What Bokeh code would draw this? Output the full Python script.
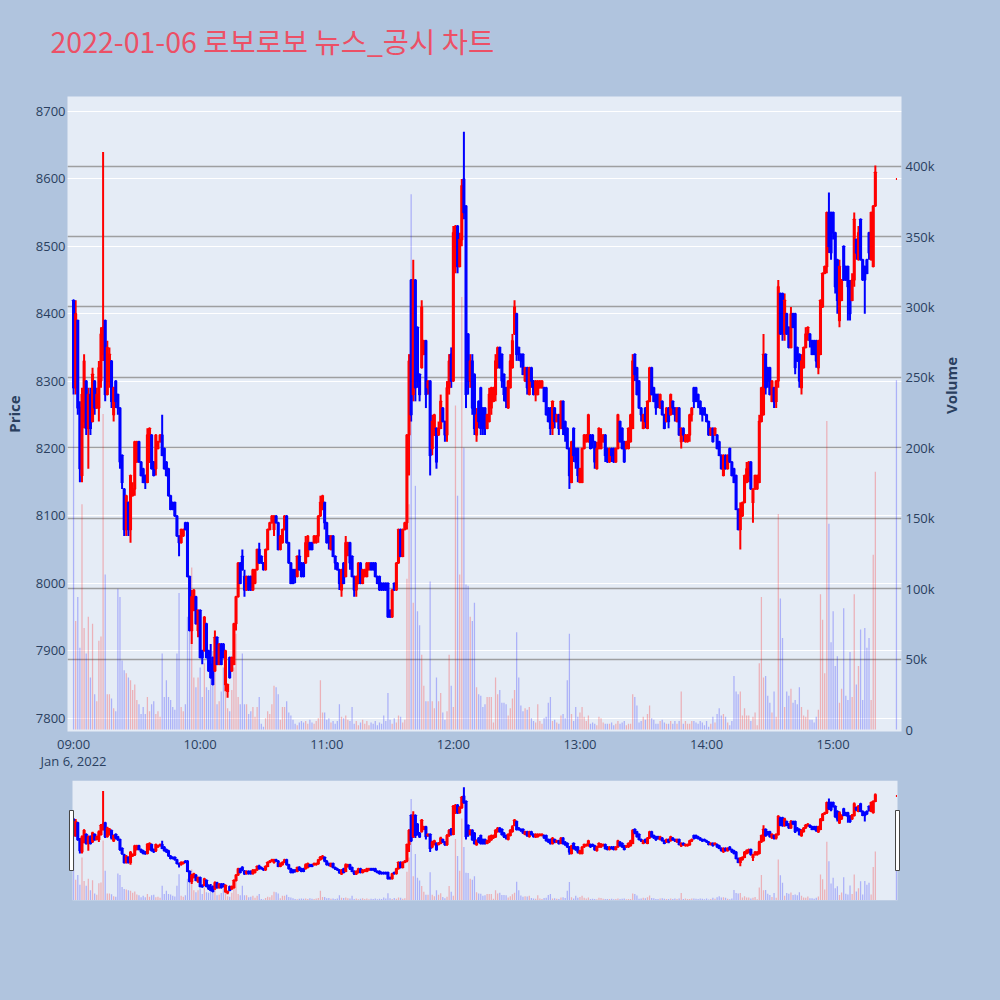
import math
import pandas as pd
from bokeh.plotting import figure
from bokeh.layouts import column
from bokeh.models import (ColumnDataSource, Range1d, LinearAxis, FixedTicker,
                          NumeralTickFormatter, DatetimeTickFormatter, Grid)
from bokeh.embed import file_html
from bokeh.resources import INLINE
try:
    from bokeh.models import GlobalInlineStyleSheet
except ImportError:
    GlobalInlineStyleSheet = None

# ---------------- data ----------------
TITLE = "2022-01-06 로보로보 뉴스_공시 차트"
SESSION_START = "2022-01-06 09:00"
CLOSING_TIME = "2022-01-06 15:30"

hour_labels = ["09:00", "10:00", "11:00", "12:00", "13:00", "14:00", "15:00"]
price_ticks = [7800, 7900, 8000, 8100, 8200, 8300, 8400, 8500, 8600, 8700]
volume_ticks = [0, 50000, 100000, 150000, 200000, 250000, 300000, 350000, 400000]

opens = [
    8420, 8290, 8390, 8260, 8160, 8240, 8300, 8230, 8280, 8240,
    8300, 8260, 8260, 8300, 8340, 8390, 8280, 8300, 8330, 8250,
    8300, 8280, 8260, 8190, 8140, 8080, 8120, 8080, 8130, 8140,
    8180, 8210, 8180, 8170, 8160, 8150, 8180, 8220, 8180, 8170,
    8200, 8210, 8220, 8200, 8180, 8170, 8130, 8120, 8120, 8100,
    8070, 8060, 8070, 8090, 8090, 8010, 7930, 7960, 7980, 7930,
    7960, 7900, 7900, 7940, 7900, 7880, 7890, 7870, 7920, 7880,
    7910, 7910, 7850, 7840, 7890, 7870, 7880, 7940, 7980, 8030,
    8040, 8010, 7990, 8010, 8010, 7990, 8000, 8020, 8050, 8040,
    8030, 8020, 8050, 8080, 8090, 8080, 8100, 8090, 8050, 8060,
    8080, 8100, 8060, 8030, 8020, 8020, 8010, 8040, 8030, 8030,
    8030, 8040, 8060, 8060, 8060, 8060, 8070, 8100, 8110, 8120,
    8090, 8070, 8050, 8070, 8040, 8030, 8020, 7990, 8030, 8010,
    8050, 8060, 8040, 8010, 7990, 8000, 8030, 8000, 8010, 8010,
    8020, 8030, 8030, 8030, 8010, 8010, 8000, 8000, 8000, 8000,
    7960, 7950, 8000, 7990, 8030, 8080, 8040, 8080, 8090, 8220,
    8450, 8280, 8450, 8380, 8310, 8320, 8340, 8360, 8290, 8300,
    8200, 8220, 8230, 8220, 8230, 8260, 8240, 8220, 8290, 8340,
    8300, 8470, 8530, 8470, 8510, 8600, 8560, 8370, 8300, 8330,
    8310, 8220, 8270, 8290, 8260, 8260, 8230, 8240, 8260, 8270,
    8280, 8320, 8350, 8340, 8310, 8290, 8260, 8290, 8320, 8370,
    8400, 8350, 8340, 8340, 8300, 8320, 8280, 8320, 8300, 8280,
    8280, 8290, 8290, 8290, 8290, 8260, 8260, 8230, 8260, 8240,
    8250, 8230, 8270, 8240, 8230, 8200, 8150, 8230, 8200, 8200,
    8150, 8150, 8200, 8210, 8210, 8220, 8220, 8210, 8170, 8200,
    8200, 8210, 8220, 8200, 8180, 8200, 8200, 8180, 8200, 8240,
    8230, 8210, 8200, 8200, 8210, 8230, 8340, 8320, 8300, 8260,
    8230, 8260, 8230, 8270, 8320, 8290, 8280, 8280, 8260, 8270,
    8250, 8240, 8260, 8250, 8270, 8260, 8240, 8260, 8210, 8230,
    8210, 8210, 8220, 8250, 8290, 8290, 8280, 8270, 8260, 8260,
    8250, 8240, 8220, 8230, 8220, 8220, 8210, 8190, 8160, 8190,
    8170, 8200, 8180, 8170, 8160, 8110, 8080, 8100, 8120, 8150,
    8160, 8180, 8120, 8140, 8140, 8150, 8240, 8250, 8340, 8320,
    8320, 8270, 8290, 8270, 8300, 8430, 8430, 8370, 8400, 8380,
    8350, 8400, 8400, 8350, 8340, 8290, 8320, 8350, 8370, 8370,
    8360, 8360, 8360, 8320, 8340, 8410, 8460, 8470, 8550, 8550,
    8550, 8520, 8480, 8390, 8420, 8500, 8470, 8470, 8440, 8420,
    8450, 8510, 8480, 8540, 8480, 8470, 8480, 8520, 8480, 8470,
    8560, 8600,
]
highs = [
    8420, 8420, 8390, 8270, 8290, 8340, 8300, 8290, 8290, 8320,
    8300, 8290, 8330, 8380, 8640, 8390, 8360, 8350, 8330, 8290,
    8300, 8280, 8260, 8190, 8140, 8130, 8120, 8160, 8150, 8210,
    8210, 8210, 8180, 8170, 8160, 8230, 8230, 8220, 8180, 8220,
    8210, 8220, 8250, 8200, 8180, 8170, 8130, 8120, 8120, 8100,
    8070, 8080, 8080, 8090, 8090, 8010, 7990, 7990, 7980, 7960,
    7960, 7900, 7950, 7940, 7900, 7910, 7890, 7930, 7920, 7910,
    7910, 7910, 7900, 7850, 7890, 7890, 7940, 7980, 8030, 8030,
    8050, 8020, 8010, 8010, 8010, 8020, 8020, 8050, 8060, 8040,
    8030, 8050, 8080, 8090, 8100, 8100, 8100, 8090, 8070, 8080,
    8100, 8100, 8060, 8030, 8020, 8020, 8040, 8050, 8030, 8030,
    8070, 8070, 8060, 8060, 8070, 8070, 8100, 8130, 8130, 8120,
    8090, 8070, 8070, 8070, 8040, 8030, 8020, 8020, 8030, 8070,
    8060, 8060, 8040, 8010, 8010, 8030, 8030, 8020, 8020, 8030,
    8030, 8030, 8030, 8030, 8010, 8010, 8000, 8000, 8000, 8000,
    7960, 7990, 8000, 8030, 8080, 8080, 8080, 8090, 8220, 8340,
    8450, 8480, 8450, 8380, 8310, 8420, 8360, 8360, 8300, 8300,
    8250, 8250, 8230, 8240, 8280, 8260, 8240, 8300, 8340, 8350,
    8530, 8530, 8530, 8520, 8600, 8670, 8560, 8370, 8340, 8340,
    8310, 8260, 8270, 8290, 8260, 8260, 8250, 8290, 8290, 8290,
    8340, 8350, 8350, 8340, 8310, 8290, 8300, 8340, 8370, 8420,
    8400, 8350, 8340, 8340, 8320, 8320, 8320, 8320, 8300, 8300,
    8300, 8300, 8300, 8290, 8290, 8260, 8260, 8270, 8260, 8250,
    8250, 8270, 8270, 8240, 8230, 8200, 8210, 8230, 8200, 8200,
    8170, 8200, 8220, 8220, 8250, 8220, 8220, 8210, 8210, 8230,
    8230, 8220, 8220, 8200, 8200, 8200, 8200, 8200, 8250, 8240,
    8230, 8210, 8210, 8230, 8250, 8340, 8340, 8320, 8300, 8260,
    8250, 8260, 8270, 8320, 8320, 8290, 8280, 8280, 8280, 8270,
    8250, 8260, 8260, 8280, 8270, 8260, 8260, 8260, 8230, 8230,
    8220, 8220, 8250, 8260, 8290, 8290, 8280, 8270, 8260, 8260,
    8250, 8240, 8230, 8230, 8230, 8220, 8210, 8190, 8190, 8190,
    8190, 8200, 8180, 8170, 8160, 8110, 8120, 8120, 8160, 8180,
    8180, 8180, 8140, 8160, 8160, 8250, 8290, 8370, 8340, 8320,
    8320, 8300, 8290, 8300, 8450, 8430, 8430, 8430, 8400, 8380,
    8410, 8400, 8400, 8350, 8340, 8340, 8350, 8380, 8380, 8370,
    8360, 8360, 8360, 8360, 8420, 8460, 8470, 8550, 8580, 8550,
    8550, 8520, 8480, 8480, 8450, 8500, 8470, 8470, 8450, 8460,
    8550, 8510, 8530, 8540, 8480, 8470, 8480, 8520, 8550, 8560,
    8620, 8600,
]
lows = [
    8280, 8280, 8250, 8150, 8150, 8230, 8220, 8170, 8220, 8240,
    8250, 8260, 8240, 8290, 8330, 8270, 8280, 8290, 8260, 8240,
    8260, 8250, 8170, 8140, 8070, 8070, 8070, 8060, 8130, 8130,
    8180, 8180, 8160, 8150, 8140, 8150, 8180, 8170, 8160, 8160,
    8200, 8210, 8190, 8170, 8160, 8130, 8110, 8110, 8100, 8070,
    8040, 8060, 8070, 8080, 8010, 7930, 7910, 7960, 7940, 7920,
    7890, 7880, 7900, 7890, 7870, 7860, 7850, 7870, 7880, 7880,
    7880, 7890, 7840, 7830, 7860, 7870, 7880, 7930, 7980, 8000,
    8020, 7980, 7990, 7990, 7990, 7990, 8000, 8020, 8030, 8030,
    8020, 8020, 8050, 8080, 8090, 8070, 8090, 8050, 8050, 8060,
    8080, 8060, 8030, 8000, 8000, 8000, 8010, 8020, 8010, 8010,
    8030, 8040, 8050, 8050, 8060, 8060, 8060, 8100, 8110, 8080,
    8060, 8050, 8050, 8040, 8020, 8020, 7990, 7980, 8000, 8010,
    8040, 8020, 8010, 7980, 7980, 8000, 8000, 8000, 8010, 8010,
    8020, 8020, 8020, 8010, 8000, 7990, 7990, 7990, 7990, 7950,
    7950, 7950, 7990, 7990, 8030, 8040, 8040, 8080, 8080, 8160,
    8240, 8270, 8270, 8290, 8270, 8320, 8340, 8260, 8280, 8160,
    8190, 8220, 8170, 8220, 8230, 8240, 8210, 8210, 8280, 8290,
    8300, 8460, 8460, 8470, 8500, 8540, 8260, 8280, 8290, 8250,
    8220, 8210, 8230, 8220, 8220, 8220, 8230, 8240, 8250, 8270,
    8270, 8320, 8320, 8290, 8270, 8260, 8260, 8290, 8320, 8370,
    8330, 8330, 8320, 8310, 8300, 8280, 8280, 8290, 8280, 8270,
    8280, 8290, 8290, 8270, 8250, 8240, 8220, 8220, 8230, 8240,
    8220, 8230, 8220, 8210, 8200, 8140, 8150, 8180, 8170, 8150,
    8150, 8150, 8200, 8210, 8210, 8200, 8200, 8170, 8170, 8200,
    8200, 8210, 8180, 8180, 8180, 8180, 8180, 8180, 8200, 8210,
    8200, 8180, 8200, 8200, 8210, 8230, 8300, 8280, 8260, 8240,
    8230, 8230, 8230, 8270, 8280, 8270, 8250, 8260, 8260, 8250,
    8230, 8240, 8230, 8250, 8250, 8240, 8240, 8220, 8200, 8210,
    8210, 8210, 8210, 8240, 8260, 8270, 8260, 8250, 8240, 8250,
    8240, 8220, 8220, 8210, 8220, 8200, 8190, 8170, 8160, 8170,
    8170, 8180, 8160, 8150, 8110, 8080, 8050, 8100, 8120, 8150,
    8150, 8140, 8090, 8140, 8140, 8150, 8240, 8250, 8280, 8290,
    8280, 8270, 8260, 8260, 8290, 8370, 8360, 8360, 8370, 8350,
    8350, 8380, 8310, 8330, 8290, 8280, 8320, 8350, 8360, 8350,
    8340, 8340, 8320, 8310, 8340, 8410, 8460, 8460, 8490, 8480,
    8510, 8430, 8400, 8380, 8420, 8450, 8450, 8390, 8390, 8420,
    8440, 8480, 8480, 8480, 8450, 8400, 8460, 8480, 8480, 8470,
    8560, 8600,
]
closes = [
    8290, 8400, 8260, 8170, 8280, 8330, 8230, 8280, 8230, 8310,
    8260, 8280, 8320, 8370, 8380, 8280, 8350, 8340, 8270, 8290,
    8270, 8260, 8180, 8150, 8080, 8130, 8080, 8160, 8140, 8210,
    8210, 8180, 8160, 8150, 8150, 8220, 8230, 8170, 8160, 8220,
    8210, 8220, 8190, 8170, 8160, 8130, 8110, 8110, 8100, 8070,
    8060, 8080, 8080, 8080, 8010, 7930, 7980, 7990, 7940, 7960,
    7890, 7890, 7950, 7890, 7870, 7860, 7850, 7920, 7880, 7910,
    7880, 7890, 7900, 7850, 7860, 7890, 7940, 7980, 8030, 8000,
    8020, 7990, 8010, 7990, 7990, 8020, 8020, 8050, 8030, 8030,
    8020, 8050, 8080, 8090, 8100, 8100, 8090, 8050, 8070, 8080,
    8100, 8060, 8030, 8000, 8000, 8010, 8040, 8020, 8010, 8010,
    8060, 8070, 8050, 8050, 8070, 8070, 8100, 8120, 8130, 8090,
    8060, 8060, 8070, 8040, 8030, 8020, 8000, 8020, 8000, 8060,
    8060, 8030, 8010, 7990, 8010, 8030, 8000, 8020, 8020, 8030,
    8030, 8020, 8020, 8010, 8000, 7990, 7990, 7990, 7990, 7950,
    7950, 7990, 7990, 8030, 8080, 8040, 8080, 8090, 8220, 8330,
    8250, 8450, 8290, 8300, 8280, 8410, 8360, 8280, 8300, 8190,
    8240, 8250, 8180, 8230, 8270, 8240, 8220, 8290, 8330, 8300,
    8520, 8530, 8470, 8510, 8590, 8550, 8280, 8300, 8330, 8260,
    8230, 8250, 8240, 8230, 8230, 8230, 8250, 8280, 8290, 8290,
    8330, 8350, 8320, 8300, 8280, 8270, 8300, 8330, 8360, 8410,
    8340, 8340, 8330, 8310, 8320, 8290, 8320, 8300, 8280, 8300,
    8300, 8300, 8300, 8270, 8250, 8240, 8230, 8270, 8240, 8250,
    8230, 8270, 8230, 8220, 8200, 8160, 8210, 8190, 8180, 8160,
    8170, 8200, 8220, 8220, 8250, 8200, 8210, 8180, 8200, 8230,
    8220, 8220, 8190, 8180, 8200, 8190, 8180, 8200, 8250, 8210,
    8200, 8180, 8210, 8230, 8250, 8330, 8310, 8280, 8260, 8250,
    8250, 8240, 8270, 8320, 8280, 8270, 8260, 8270, 8280, 8250,
    8230, 8260, 8240, 8280, 8260, 8250, 8260, 8220, 8230, 8220,
    8220, 8220, 8250, 8260, 8270, 8270, 8270, 8260, 8250, 8250,
    8240, 8220, 8230, 8210, 8230, 8200, 8190, 8170, 8190, 8170,
    8190, 8180, 8160, 8150, 8110, 8080, 8110, 8120, 8160, 8170,
    8180, 8140, 8140, 8160, 8160, 8240, 8290, 8340, 8290, 8300,
    8280, 8300, 8270, 8300, 8440, 8370, 8370, 8420, 8370, 8350,
    8400, 8380, 8320, 8330, 8300, 8330, 8350, 8370, 8380, 8360,
    8340, 8340, 8330, 8360, 8420, 8460, 8470, 8550, 8500, 8490,
    8520, 8440, 8420, 8470, 8450, 8450, 8450, 8440, 8400, 8450,
    8540, 8490, 8520, 8480, 8450, 8450, 8460, 8490, 8550, 8560,
    8610, 8600,
]
# traded volume per candle, in thousands of shares
volume_k = [
    238, 77, 94, 58, 160, 72, 54, 80, 37, 75,
    25, 20, 63, 66, 224, 110, 25, 25, 22, 15,
    13, 100, 94, 49, 42, 40, 37, 35, 28, 32,
    21, 18, 11, 16, 11, 23, 13, 18, 20, 11,
    13, 9, 54, 23, 35, 23, 21, 16, 14, 54,
    97, 16, 13, 18, 80, 82, 115, 37, 30, 37,
    44, 23, 47, 30, 28, 40, 56, 44, 18, 20,
    27, 44, 40, 15, 13, 28, 44, 68, 23, 18,
    54, 18, 18, 11, 13, 16, 9, 16, 23, 4,
    2, 8, 13, 11, 18, 31, 30, 25, 7, 16,
    16, 20, 12, 10, 7, 4, 3, 5, 6, 5,
    6, 4, 7, 5, 4, 6, 8, 35, 12, 12,
    7, 8, 5, 6, 4, 6, 18, 9, 8, 10,
    7, 6, 16, 4, 6, 3, 5, 7, 4, 6,
    3, 5, 4, 6, 3, 5, 4, 10, 6, 26,
    7, 4, 8, 5, 10, 9, 5, 7, 107, 160,
    380, 90, 173, 84, 74, 53, 31, 20, 20, 105,
    20, 15, 37, 20, 26, 12, 7, 13, 53, 31,
    16, 230, 166, 110, 307, 200, 103, 102, 80, 77,
    90, 30, 25, 24, 16, 18, 23, 23, 23, 5,
    37, 25, 28, 19, 19, 18, 10, 15, 22, 28,
    69, 37, 17, 13, 15, 14, 16, 8, 6, 5,
    18, 6, 4, 8, 9, 19, 23, 6, 7, 5,
    4, 10, 11, 8, 35, 68, 11, 6, 16, 9,
    12, 16, 9, 6, 10, 4, 5, 4, 3, 9,
    8, 5, 4, 4, 4, 5, 3, 4, 6, 4,
    5, 6, 3, 4, 4, 25, 23, 17, 5, 6,
    9, 7, 11, 17, 8, 7, 4, 4, 6, 7,
    5, 4, 4, 6, 4, 6, 4, 6, 27, 4,
    6, 4, 4, 6, 6, 5, 4, 6, 5, 3,
    6, 2, 4, 9, 5, 11, 15, 10, 11, 9,
    5, 3, 6, 38, 27, 25, 27, 10, 15, 10,
    10, 6, 9, 12, 3, 47, 94, 37, 38, 24,
    19, 12, 27, 9, 153, 93, 65, 16, 27, 24,
    29, 19, 21, 18, 30, 16, 10, 9, 14, 7,
    7, 5, 9, 14, 96, 78, 40, 219, 146, 62,
    84, 45, 52, 19, 29, 86, 24, 21, 55, 23,
    96, 32, 45, 71, 21, 72, 58, 65, 21, 124,
    183, 248,
]

n = len(opens)
assert all(len(a) == n for a in (highs, lows, closes, volume_k)), [len(a) for a in (opens, highs, lows, closes, volume_k)]

# one-minute candles for the continuous session + the 15:30 closing auction
times = pd.date_range(SESSION_START, periods=n - 1, freq="min").append(pd.DatetimeIndex([CLOSING_TIME]))

# ---------------- styling ----------------
RED, BLUE = "#FF0000", "#0000FF"
PAGE_BG, PLOT_BG = "#B0C4DE", "#E5ECF6"
TXT = "#2a3f5f"
FONT = "Open Sans"

candle_color = [RED if c >= o else BLUE for o, c in zip(opens, closes)]
vol_color = []
for i, (o, c) in enumerate(zip(opens, closes)):
    if c != o:
        up = c > o
    else:
        up = i > 0 and c >= closes[i - 1]
    vol_color.append(RED if up else BLUE)

src = ColumnDataSource(dict(
    time=times.values,
    open=opens, high=highs, low=lows, close=closes,
    top=[max(o, c) for o, c in zip(opens, closes)],
    bottom=[min(o, c) for o, c in zip(opens, closes)],
    volume=[v * 1000 for v in volume_k],
    color=candle_color, vcolor=vol_color,
))


def ms(ts):
    return pd.Timestamp(ts).value / 1e6


MIN_MS = 60_000
PX_PER_MIN = 2.110
PX_MS = MIN_MS / PX_PER_MIN
HALF = 0.5 * MIN_MS
first_ms, last_ms = ms(times[0]), ms(times[-1])
X_START = first_ms - HALF - 5 * PX_MS
X_END = last_ms + HALF + 4 * PX_MS

PRICE_RANGE = (7780.1, 8722.3)
VOL_RANGE = (-1420, 449430)
BODY_W = 0.5 * MIN_MS
VOL_W = 0.6 * MIN_MS

BORDER_L, BORDER_R = 67, 99


def draw_series(fig):
    fig.vbar(x="time", width=VOL_W, top="volume", bottom=0, y_range_name="vol",
             fill_color="vcolor", fill_alpha=0.25, line_color=None, source=src)
    fig.segment(x0="time", y0="low", x1="time", y1="high", line_color="color",
                line_width=2, source=src)
    fig.vbar(x="time", width=BODY_W, top="top", bottom="bottom", fill_color="color",
             line_color="color", line_width=2, source=src)


# ---------------- title strip ----------------
t = figure(width=1000, height=96, output_backend="svg", toolbar_location=None,
           title=TITLE, x_axis_location=None, y_axis_location=None,
           min_border_left=BORDER_L, min_border_right=BORDER_R, min_border_top=0,
           min_border_bottom=0,
           background_fill_color=PAGE_BG, border_fill_color=PAGE_BG, outline_line_color=None)
t.grid.visible = False
t.title.text_font = "Noto Sans CJK KR"
t.title.text_font_size = "28.5px"
t.title.text_font_style = "normal"
t.title.text_color = "#EC5066"
t.title.align = "left"
t.title.offset = -17
t.title.standoff = 35

# ---------------- main chart ----------------
p = figure(width=1000, height=679, x_axis_type="datetime", output_backend="svg",
           toolbar_location=None,
           x_range=Range1d(X_START, X_END),
           y_range=Range1d(*PRICE_RANGE),
           min_border_left=BORDER_L, min_border_right=BORDER_R, min_border_top=0,
           min_border_bottom=44,
           background_fill_color=PLOT_BG, border_fill_color=PAGE_BG, outline_line_color=None)
p.title.visible = False
p.extra_y_ranges = {"vol": Range1d(*VOL_RANGE)}

# grids
p.xgrid.visible = False
p.ygrid.ticker = FixedTicker(ticks=price_ticks)
p.ygrid.grid_line_color = "white"
p.ygrid.grid_line_width = 1
vol_grid = Grid(dimension=1, y_range_name="vol", ticker=FixedTicker(ticks=volume_ticks[1:]),
                grid_line_color="#8c8c8c", grid_line_alpha=0.8, grid_line_width=1.5)
p.add_layout(vol_grid)

# x axis
hour_ticks = [ms("2022-01-06 " + h) for h in hour_labels]
xax = p.xaxis[0]
xax.ticker = FixedTicker(ticks=hour_ticks)
xax.formatter = DatetimeTickFormatter(hours="%H:%M", hourmin="%H:%M", minutes="%H:%M",
                                      strip_leading_zeros=False,
                                      context="%b %-d, %Y", context_which="start")
# left price axis
yax = p.yaxis[0]
yax.ticker = FixedTicker(ticks=price_ticks)
yax.axis_label = "Price"
yax.axis_label_standoff = 9
# right volume axis
vax = LinearAxis(y_range_name="vol", ticker=FixedTicker(ticks=volume_ticks),
                 formatter=NumeralTickFormatter(format="0a"), axis_label="Volume")
vax.axis_label_standoff = 13
try:
    vax.axis_label_orientation = math.pi / 2
except Exception:
    pass
p.add_layout(vax, "right")

for ax in (xax, yax, vax):
    ax.axis_line_color = None
    ax.major_tick_line_color = None
    ax.minor_tick_line_color = None
    ax.major_tick_out = 0
    ax.major_tick_in = 0
    ax.minor_tick_out = 0
    ax.minor_tick_in = 0
    ax.major_label_text_font = FONT
    ax.major_label_text_font_size = "13px"
    ax.major_label_text_color = TXT
    ax.axis_label_text_font = FONT
    ax.axis_label_text_font_size = "15px"
    ax.axis_label_text_font_style = "bold"
    ax.axis_label_text_color = TXT
xax.major_label_standoff = 3
xax.major_label_text_line_height = 0.95
yax.major_label_standoff = 2
vax.major_label_standoff = 4

draw_series(p)

# ---------------- range slider ----------------
s = figure(width=1000, height=225, x_axis_type="datetime", output_backend="svg",
           toolbar_location=None,
           x_range=Range1d(X_START, X_END),
           y_range=Range1d(*PRICE_RANGE),
           x_axis_location=None, y_axis_location=None,
           min_border_left=BORDER_L, min_border_right=BORDER_R, min_border_top=5,
           min_border_bottom=100,
           background_fill_color=PAGE_BG, border_fill_color=PAGE_BG, outline_line_color=None)
s.title.visible = False
s.extra_y_ranges = {"vol": Range1d(*VOL_RANGE)}
s.grid.visible = False

bg_left, bg_right = first_ms - HALF, last_ms + HALF
s.quad(left=[bg_left], right=[bg_right], bottom=[PRICE_RANGE[0]], top=[PRICE_RANGE[1]],
       fill_color=PLOT_BG, line_color=None)
draw_series(s)

price_per_px = (PRICE_RANGE[1] - PRICE_RANGE[0]) / 120.0
h_bottom = PRICE_RANGE[0] + 30 * price_per_px
h_top = PRICE_RANGE[1] - 30 * price_per_px
s.quad(left=[bg_left - 3 * PX_MS, bg_right - 2 * PX_MS],
       right=[bg_left + 1 * PX_MS, bg_right + 2 * PX_MS],
       bottom=[h_bottom, h_bottom], top=[h_top, h_top],
       fill_color="white", line_color="#444444", line_width=1)

layout = column(t, p, s)
if GlobalInlineStyleSheet is not None:
    layout.stylesheets = [GlobalInlineStyleSheet(
        css="html, body { margin: 0 !important; padding: 0 !important; background: #B0C4DE; }")]

open("out.html", "w").write(file_html(layout, INLINE))
